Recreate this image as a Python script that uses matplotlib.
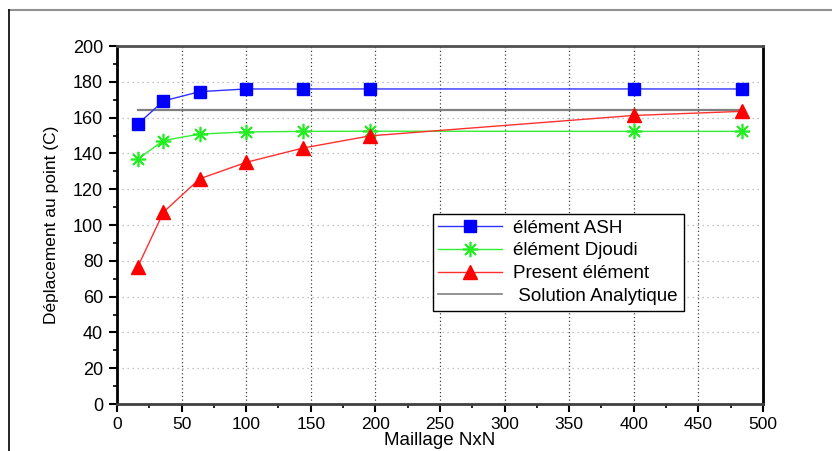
import matplotlib
matplotlib.use('Agg')
import matplotlib.pyplot as plt
from matplotlib.lines import Line2D

plt.rcParams['font.family'] = ['Liberation Sans', 'DejaVu Sans']

# maillage NxN (N = 4,6,8,10,12,14,20,22)
maillage = [16, 36, 64, 100, 144, 196, 400, 484]
ash = [156.3, 169.3, 174.5, 176.0, 176.0, 176.0, 176.0, 176.0]
djoudi = [136.8, 147.2, 150.8, 152.0, 152.3, 152.4, 152.3, 152.3]
present = [76.5, 107.2, 125.8, 135.0, 143.0, 149.8, 161.2, 163.5]
analytique_x = [16, 484]
analytique_y = [164.3, 164.3]

fig = plt.figure(figsize=(8.32, 4.51), dpi=100)
ax = fig.add_axes([0.1406, 0.1042, 0.7764, 0.7938])

# cadre exterieur (haut et gauche seulement)
fig.add_artist(Line2D([0.011, 1.0], [0.978, 0.978], transform=fig.transFigure, color='#909090', lw=1.5))
fig.add_artist(Line2D([0.011, 0.011], [0.0, 0.978], transform=fig.transFigure, color='black', lw=1.2))

ax.plot(maillage, ash, color='#3030ff', lw=1, marker='s', ms=8, mfc='blue', mec='blue', label='élément ASH', zorder=4)
ax.plot(maillage, djoudi, color='#33ee33', lw=1, marker=(8, 2, 0), ms=11, mec='#22ee22', mew=1.2, label='élément Djoudi', zorder=4)
ax.plot(maillage, present, color='#ff3030', lw=1, marker='^', ms=10, mfc='red', mec='red', label='Present élément', zorder=4)
ax.plot(analytique_x, analytique_y, color='#808080', lw=1.6, label=' Solution Analytique', zorder=3)

ax.set_xlim(0, 500)
ax.set_ylim(0, 200)
ax.set_xticks(range(0, 501, 50))
ax.set_yticks(range(0, 201, 20))
ax.set_xticks(range(25, 500, 50), minor=True)
ax.set_yticks(range(10, 200, 20), minor=True)
ax.tick_params(which='major', direction='out', length=6, width=1.5, labelsize=13, pad=4)
ax.tick_params(axis='x', which='major', labelsize=12.5, pad=3)
ax.tick_params(which='minor', direction='out', length=3, width=1.2)

ax.grid(True, axis='x', which='major', linestyle=(0, (1, 2)), color='#404040', lw=0.9)
ax.grid(True, axis='y', which='major', linestyle=(0, (1, 3)), color='#b0b0b0', lw=0.9)
ax.set_axisbelow(True)

for s in ['left', 'right']:
    ax.spines[s].set_linewidth(2)
    ax.spines[s].set_color('black')
ax.spines['top'].set_linewidth(2)
ax.spines['top'].set_color('#505050')
ax.spines['bottom'].set_linewidth(2)
ax.spines['bottom'].set_color('#404040')

ax.set_xlabel('Maillage NxN', fontsize=13.5)
ax.xaxis.set_label_coords(0.5, -0.077)
ax.set_ylabel('Déplacement au point (C)', fontsize=12.5)
ax.yaxis.set_label_coords(-0.09, 0.5)

leg = ax.legend(loc='upper left', bbox_to_anchor=(0.489, 0.531), fontsize=13.5, frameon=True,
                fancybox=False, edgecolor='black', framealpha=1, handlelength=3.4,
                borderpad=0.3, labelspacing=0.3, handletextpad=0.6, borderaxespad=0)
leg.get_frame().set_linewidth(1)
leg.get_lines()[3].set_linewidth(1.2)

fig.savefig('out.png', dpi=100)
